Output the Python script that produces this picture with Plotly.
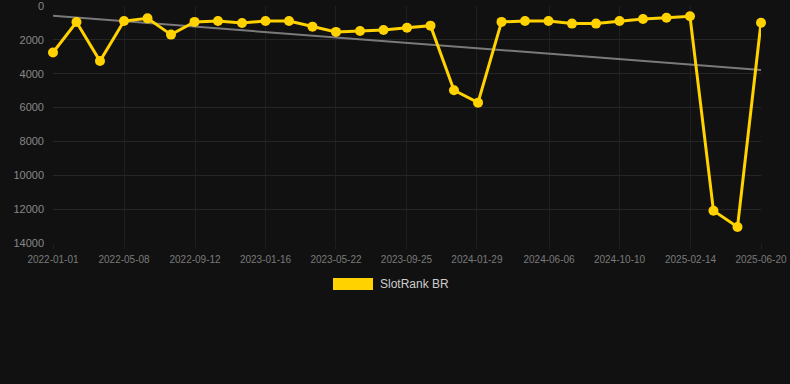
import numpy as np
import pandas as pd
import plotly.graph_objects as go

dates = ["2022-01-01", "2022-02-12", "2022-03-26", "2022-05-08", "2022-06-19", "2022-07-31",
         "2022-09-11", "2022-10-23", "2022-12-05", "2023-01-16", "2023-02-27", "2023-04-10",
         "2023-05-22", "2023-07-04", "2023-08-15", "2023-09-26", "2023-11-07", "2023-12-19",
         "2024-01-31", "2024-03-13", "2024-04-24", "2024-06-05", "2024-07-17", "2024-08-29",
         "2024-10-10", "2024-11-21", "2025-01-02", "2025-02-13", "2025-03-27", "2025-05-09",
         "2025-06-20"]
ranks = [2750, 950, 3250, 890, 730, 1690, 940, 890, 1000, 890, 890, 1220, 1530, 1480, 1420,
         1280, 1160, 4980, 5710, 940, 890, 890, 1040, 1040, 890, 770, 690, 610, 12090, 13050, 990]
series_name = "SlotRank BR"

tick_dates = ["2022-01-01", "2022-05-08", "2022-09-12", "2023-01-16", "2023-05-22", "2023-09-25",
              "2024-01-29", "2024-06-06", "2024-10-10", "2025-02-14", "2025-06-20"]
y_ticks = [0, 2000, 4000, 6000, 8000, 10000, 12000, 14000]

x = pd.to_datetime(dates)
days = (x - x[0]).days.values.astype(float)
coef = np.polyfit(days, np.array(ranks, dtype=float), 1)
trend = np.polyval(coef, days[[0, -1]])

gold = "#FFD200"
fig = go.Figure()
fig.add_trace(go.Scatter(x=[x[0], x[-1]], y=trend, mode="lines", cliponaxis=False,
                         line=dict(color="#7a7a7a", width=2), showlegend=False, hoverinfo="skip"))
fig.add_trace(go.Scatter(x=x, y=ranks, mode="lines+markers", name=series_name, cliponaxis=False,
                         line=dict(color=gold, width=3), marker=dict(color=gold, size=10),
                         showlegend=False))

fig.add_shape(type="rect", xref="paper", yref="paper", x0=(333-53)/708, x1=(373-53)/708,
              y0=-(290-243)/237, y1=-(278-243)/237, fillcolor=gold, line=dict(width=0))
fig.add_annotation(text=series_name, xref="paper", yref="paper", x=(378-53)/708, y=-(284-243)/237,
                   xanchor="left", yanchor="middle", showarrow=False,
                   font=dict(color="#cccccc", size=12, family="Liberation Sans, Arial, sans-serif"))

fig.update_layout(
    width=790, height=384,
    margin=dict(l=53, r=29, t=6, b=141),
    paper_bgcolor="#111111", plot_bgcolor="#111111",
    font=dict(family="Liberation Sans, Arial, sans-serif", color="#888888"),
    xaxis=dict(type="date", range=[x[0], x[-1]], tickvals=pd.to_datetime(tick_dates),
               ticktext=tick_dates, showgrid=True, gridcolor="#1f1f1f", zeroline=False,
               showline=False, tickfont=dict(size=10, color="#7a7a7a"), ticks="outside",
               ticklen=5, tickcolor="#1f1f1f", ticklabelstandoff=2,
               ticklabeloverflow="allow", automargin=False),
    yaxis=dict(range=[14000, 0], tickvals=y_ticks, ticktext=[str(v) for v in y_ticks],
               showgrid=True, gridcolor="#262626", ticklabelstandoff=8, automargin=False,
               zeroline=False, tickfont=dict(size=11, color="#888888"), ticks="", ticklen=0,
               ticklabeloverflow="allow"),
)
fig.write_html("out.html", config={"displayModeBar": False},
               post_script="document.body.style.margin='0';document.body.style.background='#111111';")
